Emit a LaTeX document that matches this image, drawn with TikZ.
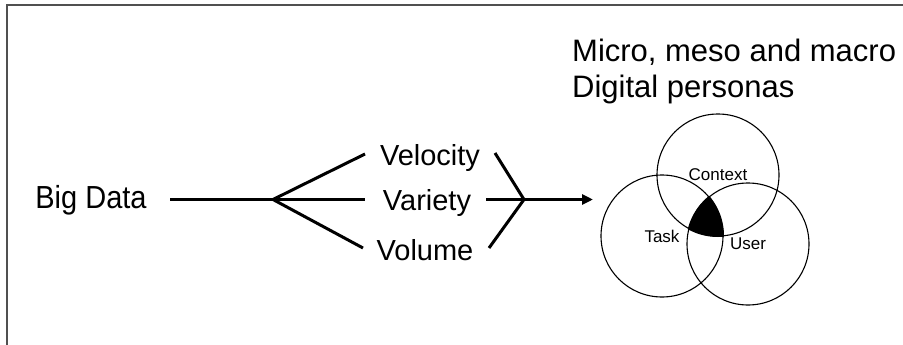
\documentclass[tikz,border=0pt]{standalone}
\usepackage{fontspec}
\setmainfont{Liberation Sans}
\usetikzlibrary{arrows.meta}
\definecolor{framegray}{HTML}{505050}
\begin{document}
\begin{tikzpicture}[x=1pt,y=-1pt,
  big/.style={font=\fontsize{29}{34}\selectfont, inner sep=0pt, anchor=base},
  ttl/.style={font=\fontsize{31}{36}\selectfont, inner sep=0pt, anchor=base west},
  venn/.style={circle, draw, line width=1.1pt, minimum size=122pt, inner sep=0pt, font=\fontsize{17}{20}\selectfont},
  conn/.style={line width=3pt},
]
\useasboundingbox (0,0) rectangle (903,345);
\draw[framegray, line width=2pt] (7,345) -- (7,5) -- (903,5);

% titles
\node[ttl] (t1) at (572,62) {Micro, meso and macro};
\node[ttl] (t2) at (572,97) {Digital personas};

% left texts
\node[big, yscale=1.1] (bigdata) at (91,208) {Big Data};
\node[big] (velocity) at (430,165) {Velocity};
\node[big] (variety) at (427,210.5) {Variety};
\node[big] (volume) at (425,260) {Volume};

% coordinates
\coordinate (start) at (170,199.5);
\coordinate (split) at (273,199.5);
\coordinate (velin) at (365,154);
\coordinate (varin) at (365,199.5);
\coordinate (volin) at (363,248);
\coordinate (velout) at (495,153);
\coordinate (varout) at (486,199.5);
\coordinate (volout) at (489,248);
\coordinate (join) at (524,199.5);
\coordinate (tip) at (593,199.5);

% venn
\node[venn] (context) at (718,175) {Context};
\node[venn] (task) at (662,236) {Task};
\node[venn] (user) at (748,244) {User};
\begin{scope}
  \clip (task.center) circle[radius=62];
  \clip (user.center) circle[radius=62];
  \fill (context.center) circle[radius=62];
\end{scope}

% connectors
\draw[conn] (start) -- (split);
\draw[conn] (split) -- (velin);
\draw[conn] (split) -- (varin);
\draw[conn] (split) -- (volin);
\draw[conn] (velout) -- (join);
\draw[conn] (volout) -- (join);
\draw[conn] (varout) -- (join);
\draw[conn, -{Triangle[length=11pt,width=10pt]}] (join) -- (tip);
\end{tikzpicture}
\end{document}
